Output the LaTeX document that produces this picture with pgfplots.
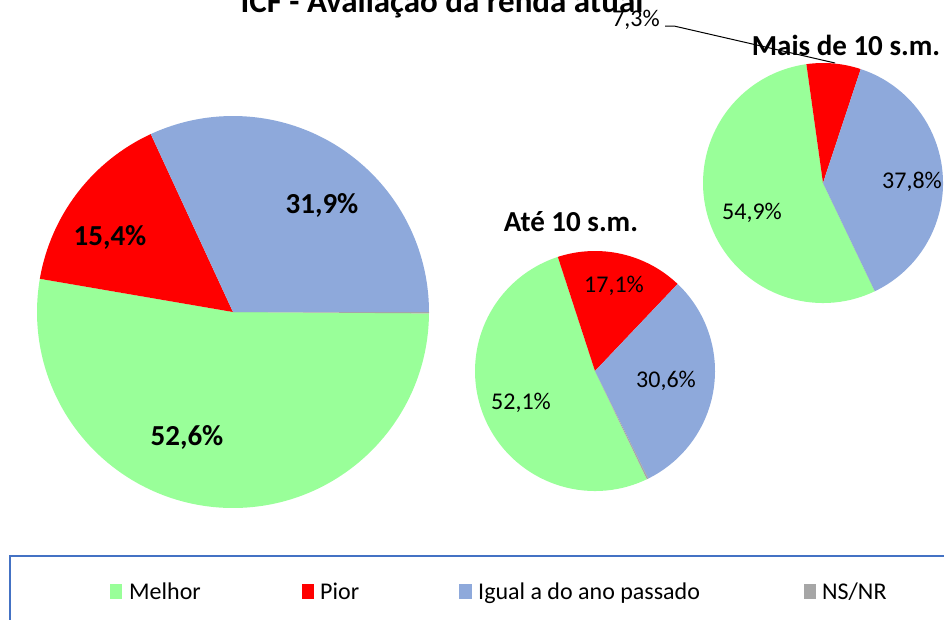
\documentclass[border=0pt]{standalone}
\usepackage{pgfplots}
\pgfplotsset{compat=1.18}
\usepackage{fontspec}
\setmainfont{Carlito}
\definecolor{cMel}{RGB}{153,255,153}
\definecolor{cPio}{RGB}{255,0,0}
\definecolor{cIgu}{RGB}{142,169,219}
\definecolor{cNS}{RGB}{166,166,166}
\definecolor{cBox}{RGB}{68,114,196}
% slice: cx, cy, r, start angle, percent before, percent, colour
\newcommand\slice[7]{\fill[#7] (axis cs:#1,#2) -- ++({#4-3.6*(#5)}:#3pt) arc[start angle={#4-3.6*(#5)}, end angle={#4-3.6*(#5+#6)}, radius=#3pt] -- cycle;}
% pie: cx, cy, r, start angle, Melhor, Pior, Igual, NS/NR
\newcommand\pie[8]{%
\slice{#1}{#2}{#3}{#4}{0}{#5}{cMel}%
\slice{#1}{#2}{#3}{#4}{#5}{#6}{cPio}%
\slice{#1}{#2}{#3}{#4}{#5+#6}{#7}{cIgu}%
\slice{#1}{#2}{#3}{#4}{#5+#6+#7}{#8}{cNS}}
\newcommand\fs[1]{\fontsize{#1}{#1}\selectfont}
\begin{document}
\begin{tikzpicture}
\begin{axis}[x=1pt, y=1pt, y dir=reverse, xmin=0, xmax=944, ymin=0, ymax=619,
  hide axis, clip=false]
\coordinate (BL) at (axis cs:0,619);
\coordinate (TR) at (axis cs:944,0);
% data: Melhor, Pior, Igual, NS/NR
\pie{233}{312}{196}{-0.4}{52.6}{15.4}{31.9}{0.1}
\pie{595}{371}{120}{-64.4}{52.1}{17.1}{30.6}{0.2}
\pie{823}{183}{120}{-64.4}{54.9}{7.3}{37.8}{0}
% labels
\node[font=\fs{29}\bfseries] at (axis cs:322,205) {31,9\%};
\node[font=\fs{29}\bfseries] at (axis cs:110,237) {15,4\%};
\node[font=\fs{29}\bfseries] at (axis cs:187,437) {52,6\%};
\node[font=\fs{24}] at (axis cs:614,286) {17,1\%};
\node[font=\fs{24}] at (axis cs:666,381) {30,6\%};
\node[font=\fs{24}] at (axis cs:521,403) {52,1\%};
\node[font=\fs{24}] at (axis cs:752,213) {54,9\%};
\node[font=\fs{24}] at (axis cs:912,182) {37,8\%};
\node[font=\fs{24}] at (axis cs:636,20) {7,3\%};
\draw[black, line width=1pt] (axis cs:665,26) -- (axis cs:674,26) -- (axis cs:835,63);
% titles
\node[font=\fs{33}\bfseries, anchor=base] at (axis cs:442,12.5) {ICF - Avaliação da renda atual};
\node[font=\fs{29}\bfseries] at (axis cs:571,222) {Até 10 s.m.};
\node[font=\fs{29}\bfseries] at (axis cs:846,45) {Mais de 10 s.m.};
% legend
\draw[cBox, line width=1.5pt] (axis cs:10,630) -- (axis cs:10,556) -- (axis cs:960,556);
\fill[cMel] (axis cs:110,584) rectangle (axis cs:122,599);
\node[font=\fs{24}, anchor=base west, inner sep=0pt] at (axis cs:129,599.5) {Melhor};
\fill[cPio] (axis cs:302,584) rectangle (axis cs:314,599);
\node[font=\fs{24}, anchor=base west, inner sep=0pt] at (axis cs:320,599.5) {Pior};
\fill[cIgu] (axis cs:459,584) rectangle (axis cs:472,599);
\node[font=\fs{24}, anchor=base west, inner sep=0pt] at (axis cs:478,599.5) {Igual a do ano passado};
\fill[cNS] (axis cs:804,584) rectangle (axis cs:816,599);
\node[font=\fs{24}, anchor=base west, inner sep=0pt] at (axis cs:822,599.5) {NS/NR};
\end{axis}
\pgfresetboundingbox
\path[use as bounding box] (BL) rectangle (TR);
\end{tikzpicture}
\end{document}
